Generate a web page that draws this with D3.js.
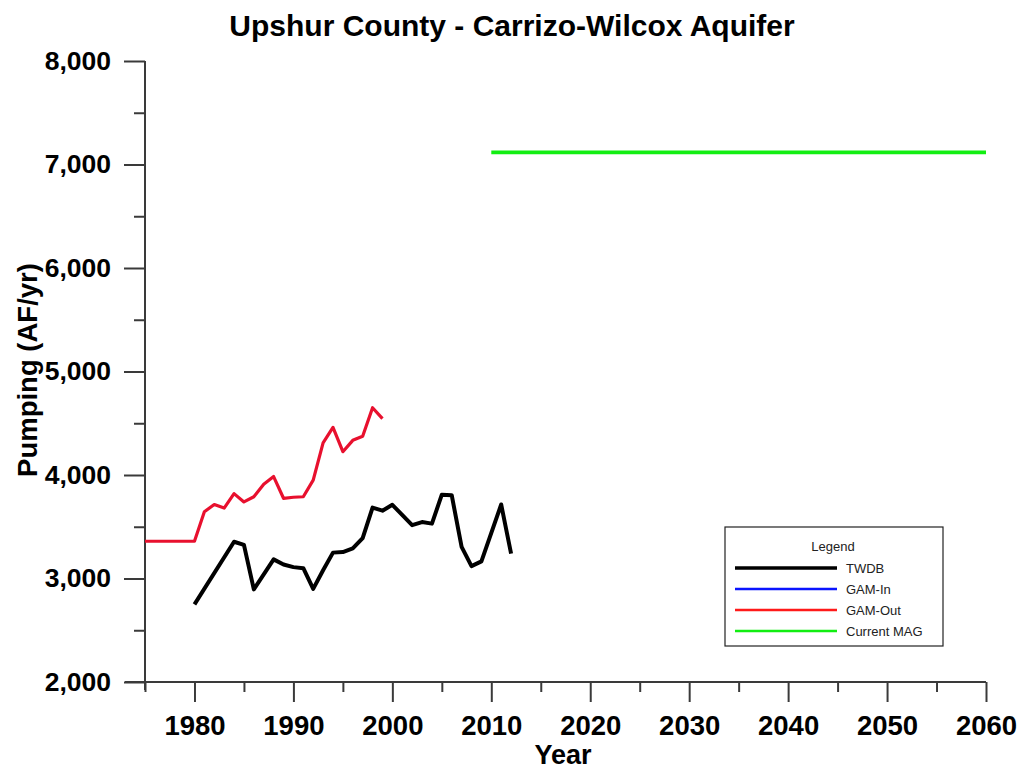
<!DOCTYPE html>
<html>
<head>
<meta charset="utf-8">
<script src="https://cdn.jsdelivr.net/npm/d3@7"></script>
<style>
  html, body { margin: 0; padding: 0; background: #fff; }
  svg { display: block; font-family: "Liberation Sans", Arial, sans-serif; }
</style>
</head>
<body>
<svg id="chart" width="1022" height="771"></svg>
<script>
// Pumping records, acre-feet per year
const twdbYears = [1980, 1984, 1985, 1986, 1988, 1989, 1990, 1991, 1992, 1993, 1994, 1995, 1996, 1997, 1998, 1999, 2000, 2002, 2003, 2004, 2005, 2006, 2007, 2008, 2009, 2011, 2012];
const twdbValues = [2750, 3355, 3325, 2895, 3185, 3135, 3110, 3100, 2900, 3080, 3250, 3255, 3290, 3390, 3685, 3655, 3712, 3515, 3545, 3530, 3810, 3805, 3305, 3120, 3165, 3715, 3240];

const gamOutYears = [1975, 1980, 1981, 1982, 1983, 1984, 1985, 1986, 1987, 1988, 1989, 1990, 1991, 1992, 1993, 1994, 1995, 1996, 1997, 1998, 1999];
const gamOutValues = [3360, 3360, 3645, 3715, 3680, 3820, 3740, 3790, 3910, 3985, 3775, 3785, 3790, 3950, 4310, 4460, 4225, 4335, 4375, 4650, 4545];

const gamInYears = [];
const gamInValues = [];

const magYears = [2010, 2060];
const magValues = [7117, 7117];

const legendLabels = ["TWDB", "GAM-In", "GAM-Out", "Current MAG"];
const legendColors = ["#000000", "#0a14ff", "#ff1a1a", "#12ee12"];

const yTicks = [2000, 3000, 4000, 5000, 6000, 7000, 8000];
const yMinorTicks = [2500, 3500, 4500, 5500, 6500, 7500];
const xTicks = [1980, 1990, 2000, 2010, 2020, 2030, 2040, 2050, 2060];
const xMinorTicks = [1975, 1985, 1995, 2005, 2015, 2025, 2035, 2045, 2055];

const svg = d3.select("#chart");
const x = d3.scaleLinear().domain([1975, 2060]).range([145, 986]);
const y = d3.scaleLinear().domain([2000, 8000]).range([682, 61]);
const axisColor = "#3a3a3a";
const fmt = d3.format(",");

// Title
svg.append("text")
  .attr("x", 512).attr("y", 36)
  .attr("text-anchor", "middle")
  .attr("font-size", 30).attr("font-weight", "bold")
  .text("Upshur County - Carrizo-Wilcox Aquifer");

// Y axis: major ticks with labels, minor ticks without
const yAxis = svg.append("g").attr("transform", `translate(${x(1975)},0)`)
  .call(d3.axisLeft(y).tickValues(yTicks).tickSize(21).tickPadding(13).tickFormat(fmt));
yAxis.select(".domain").remove();
yAxis.selectAll("line").attr("stroke", axisColor).attr("stroke-width", 2);
yAxis.selectAll("text").attr("font-size", 26.5).attr("font-weight", "bold")
  .attr("font-family", "Liberation Sans, Arial, sans-serif").attr("fill", "#000");
const yMinor = svg.append("g").attr("transform", `translate(${x(1975)},0)`)
  .call(d3.axisLeft(y).tickValues(yMinorTicks).tickSize(11).tickFormat(""));
yMinor.select(".domain").remove();
yMinor.selectAll("line").attr("stroke", axisColor).attr("stroke-width", 2);

// X axis
const xAxis = svg.append("g").attr("transform", `translate(0,${y(2000)})`)
  .call(d3.axisBottom(x).tickValues(xTicks).tickSize(20).tickPadding(13).tickFormat(d3.format("d")));
xAxis.select(".domain").remove();
xAxis.selectAll("line").attr("stroke", axisColor).attr("stroke-width", 2);
xAxis.selectAll("text").attr("font-size", 27.5).attr("font-weight", "bold")
  .attr("font-family", "Liberation Sans, Arial, sans-serif").attr("fill", "#000");
const xMinor = svg.append("g").attr("transform", `translate(0,${y(2000)})`)
  .call(d3.axisBottom(x).tickValues(xMinorTicks).tickSize(10).tickFormat(""));
xMinor.select(".domain").remove();
xMinor.selectAll("line").attr("stroke", axisColor).attr("stroke-width", 2);

// Axis lines, slightly overshooting the origin
svg.append("line").attr("x1", x(1975)).attr("x2", x(1975))
  .attr("y1", y(8000)).attr("y2", y(2000) + 8)
  .attr("stroke", axisColor).attr("stroke-width", 2);
svg.append("line").attr("x1", x(1975) - 20).attr("x2", x(2060))
  .attr("y1", y(2000)).attr("y2", y(2000))
  .attr("stroke", axisColor).attr("stroke-width", 2);

// Axis titles
svg.append("text")
  .attr("x", 563).attr("y", 764)
  .attr("text-anchor", "middle")
  .attr("font-size", 27).attr("font-weight", "bold")
  .text("Year");
svg.append("text")
  .attr("transform", `translate(37,${370}) rotate(-90)`)
  .attr("text-anchor", "middle")
  .attr("font-size", 27.5).attr("font-weight", "bold")
  .text("Pumping (AF/yr)");

// Series
const line = d3.line().x(d => x(d[0])).y(d => y(d[1]));
const series = [
  { years: gamOutYears, values: gamOutValues, color: "#e8102e", width: 3.2 },
  { years: gamInYears, values: gamInValues, color: legendColors[1], width: 3.2 },
  { years: twdbYears, values: twdbValues, color: "#000000", width: 4 },
  { years: magYears, values: magValues, color: legendColors[3], width: 3.6 }
];
series.forEach(s => {
  if (!s.years.length) return;
  svg.append("path")
    .datum(d3.zip(s.years, s.values))
    .attr("d", line)
    .attr("fill", "none")
    .attr("stroke", s.color)
    .attr("stroke-width", s.width)
    .attr("stroke-linejoin", "round");
});

// Legend
const lg = svg.append("g").attr("transform", "translate(725,527)");
lg.append("rect").attr("x", 0).attr("y", 0).attr("width", 218).attr("height", 119)
  .attr("fill", "#fff").attr("stroke", "#222").attr("stroke-width", 1.2);
lg.append("text").attr("x", 108).attr("y", 24).attr("text-anchor", "middle")
  .attr("font-size", 13).attr("fill", "#222").text("Legend");
legendLabels.forEach((lab, i) => {
  const yy = 41 + i * 21;
  lg.append("line").attr("x1", 10).attr("x2", 112).attr("y1", yy).attr("y2", yy)
    .attr("stroke", legendColors[i]).attr("stroke-width", i === 0 ? 3.5 : 2.5);
  lg.append("text").attr("x", 121).attr("y", yy + 4.5)
    .attr("font-size", 13).attr("fill", "#222").text(lab);
});
</script>
</body>
</html>
